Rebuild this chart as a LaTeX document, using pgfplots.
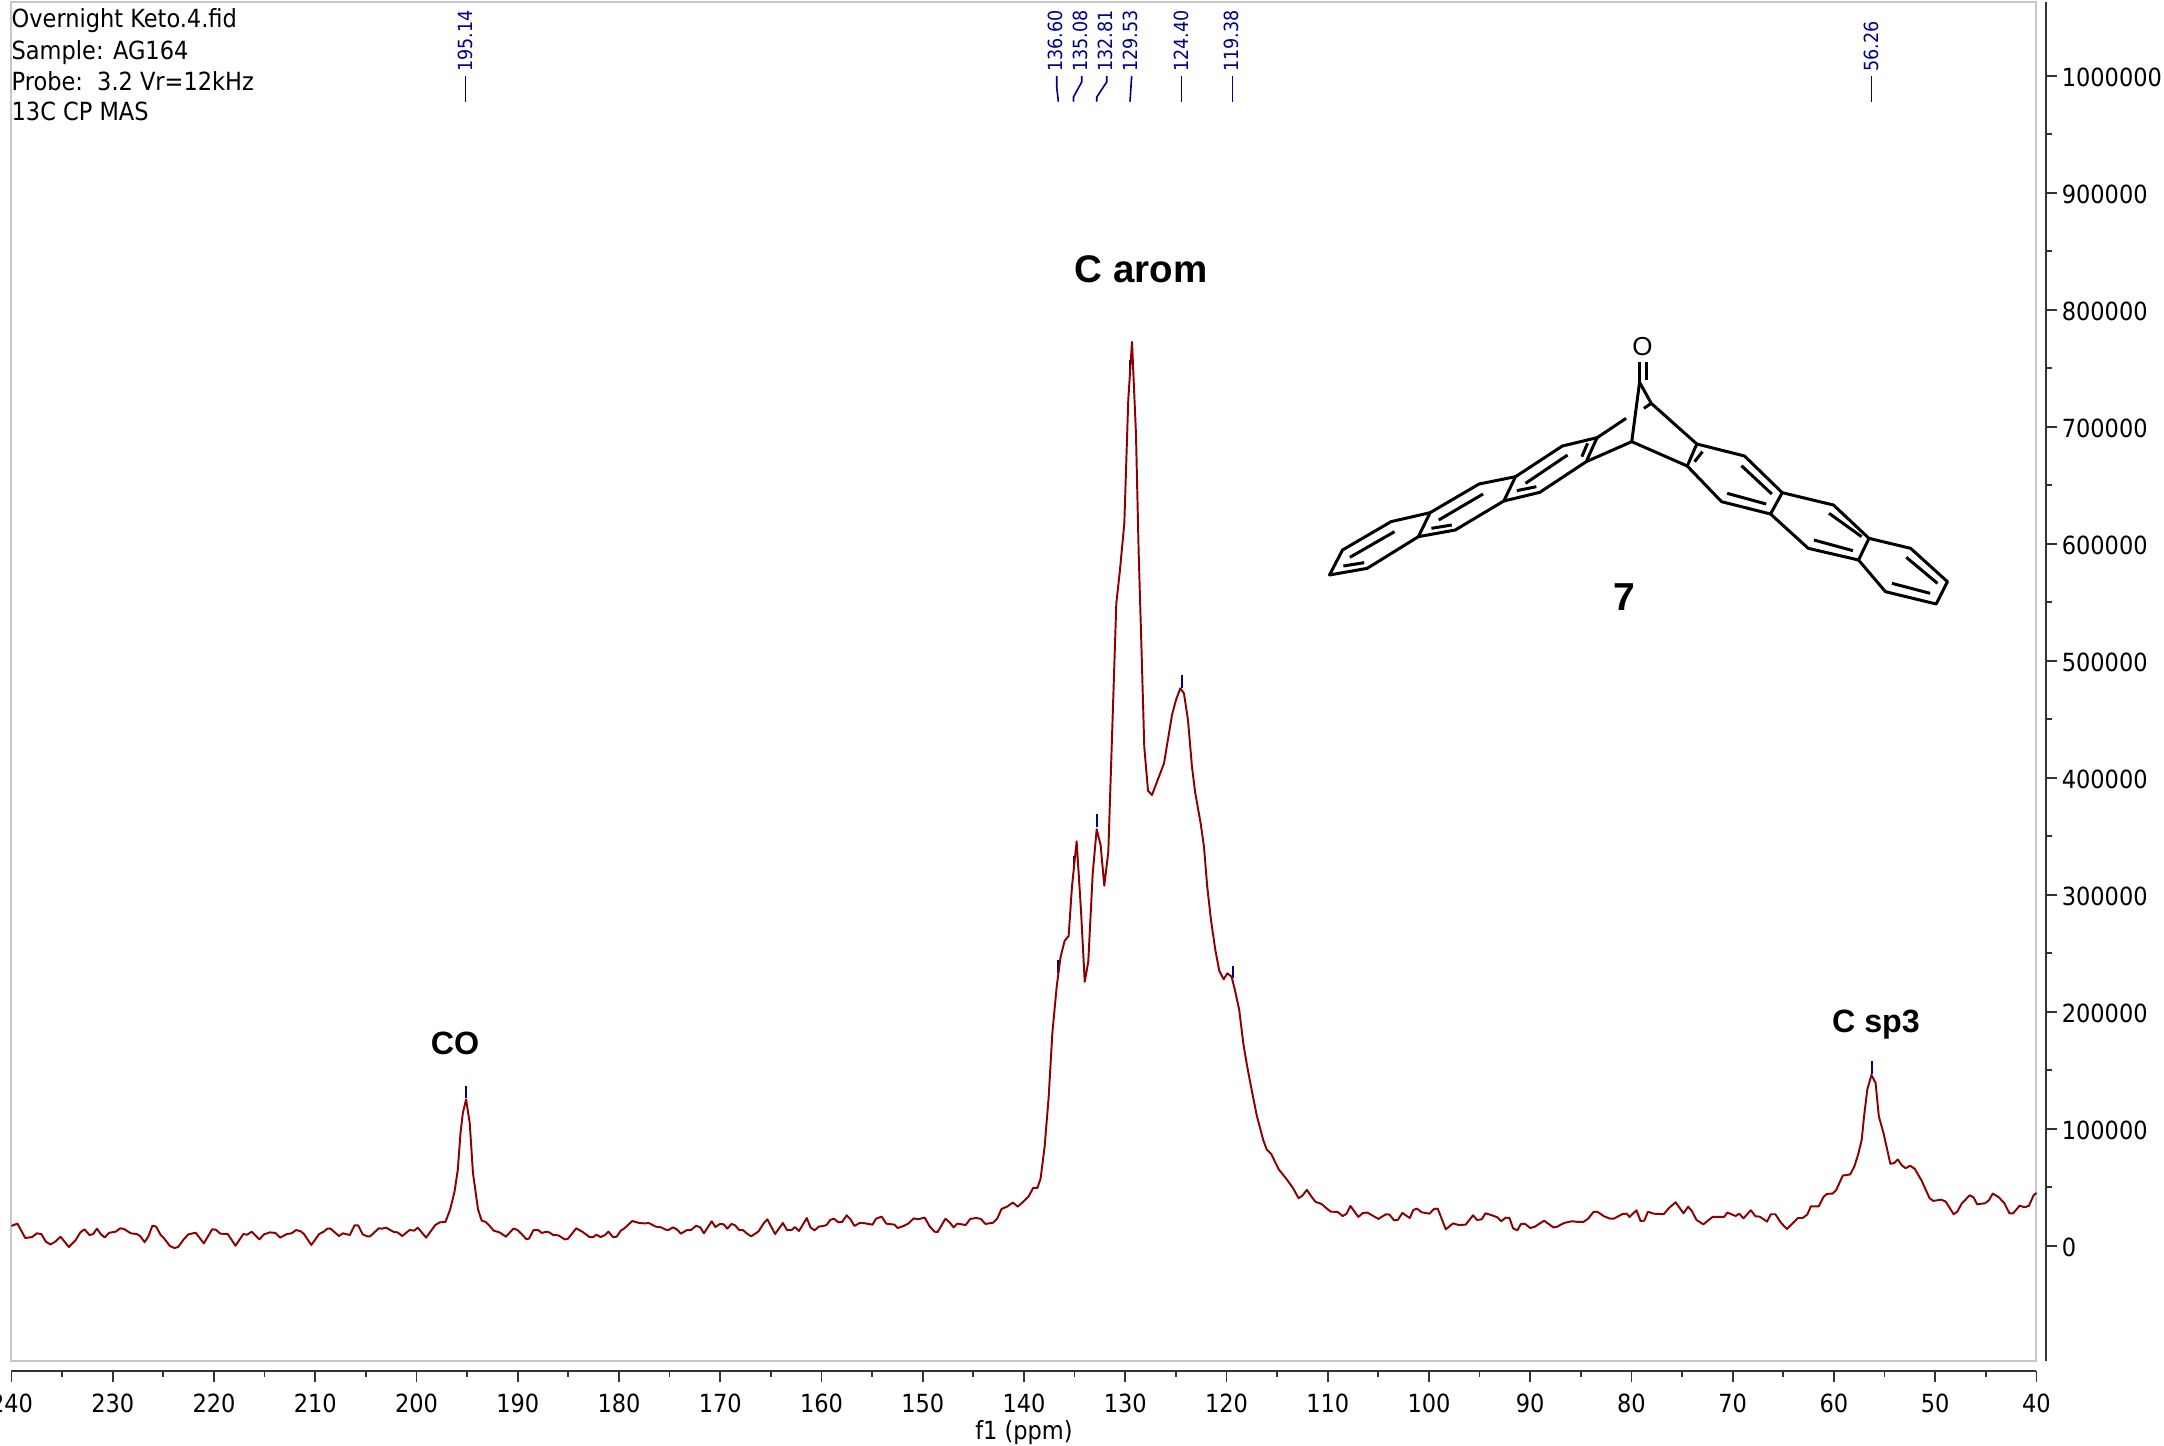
\documentclass[border=0pt]{standalone}
\usepackage{fontspec}
\setmainfont{DejaVu Sans Condensed}
\newfontfamily\lib{Liberation Sans}
\usepackage{pgfplots}
\usepackage{pgfplotstable}
\pgfplotsset{compat=1.18}
\definecolor{spec}{HTML}{8B0000}
\definecolor{pk}{HTML}{00008B}
\definecolor{fr}{HTML}{C8C8C8}
\definecolor{ax}{HTML}{333333}
\pgfplotstableread{
ppm val
240.0 16900
239.41 18900
238.64 6600
237.96 7400
237.51 10600
237.05 10000
236.6 3400
236.15 1100
235.69 3400
235.15 7700
234.33 -1100
233.65 4900
233.2 11400
232.79 14000
232.29 9100
231.93 10000
231.56 14600
231.16 9700
230.79 7100
230.34 11100
229.71 12000
229.25 14900
228.89 14300
228.21 10600
227.62 10000
227.3 8300
226.85 3100
226.49 7700
226.08 17100
225.71 16300
225.26 9100
224.9 6000
224.35 -300
223.9 -2000
223.54 -1100
222.99 5400
222.54 9700
221.81 11100
221.0 2000
220.18 14000
219.82 13700
219.37 10300
218.64 10000
217.87 0
217.1 10000
216.73 9400
216.28 12000
215.51 5400
215.06 9700
214.47 11400
213.92 10900
213.47 6900
212.79 10000
212.34 10600
211.88 13400
211.43 12300
211.11 10000
210.39 600
209.61 10000
209.16 12000
208.8 14600
208.48 14600
207.66 8300
207.26 10600
206.58 9100
206.12 17400
205.76 17400
205.31 9700
204.85 8000
204.58 8000
203.72 14900
203.4 14600
203.0 15400
202.22 11700
201.86 11400
201.41 8300
200.68 13400
200.23 12900
199.86 15400
199.05 6900
198.14 17700
197.69 20000
197.14 20300
196.69 30600
196.24 46300
195.92 64900
195.65 96300
195.42 113400
195.10 125000
194.74 104900
194.42 62000
193.92 31100
193.56 21400
193.15 20300
192.79 17100
192.38 12900
191.79 11400
191.16 7700
190.43 14600
190.07 13700
189.61 10000
189.16 5700
188.89 6000
188.44 13400
187.98 13400
187.62 10900
187.17 12000
186.89 11400
186.49 9100
185.99 8900
185.35 5400
185.03 6000
184.22 14900
183.63 12000
182.9 7400
182.54 7400
182.22 9400
181.81 7400
181.41 8900
181.04 12000
180.59 7400
180.23 7700
179.82 12900
179.46 14900
178.69 21100
178.0 19400
177.41 19100
177.05 19400
176.37 16300
175.83 15700
175.37 13700
175.1 13400
174.69 15700
174.28 14000
173.88 10300
173.29 13400
172.88 13400
172.38 17100
171.97 15700
171.61 10600
170.84 20900
170.48 16000
170.02 18600
169.66 18300
169.3 14600
168.89 18600
168.53 17400
168.12 13400
167.76 13400
167.3 10000
166.94 8000
166.21 12300
165.71 19100
165.35 22600
164.58 10000
163.81 19400
163.4 13400
162.95 13400
162.63 16000
162.22 12600
161.45 23700
161.09 15700
160.68 13100
160.27 16300
159.82 16900
159.5 17700
159.14 22000
158.78 23100
158.32 20000
157.96 20300
157.51 26000
157.14 22600
156.74 16900
156.24 19400
155.87 19400
154.97 18000
154.6 23100
154.06 24900
153.61 18900
152.79 18000
152.47 15100
151.88 16900
151.43 18900
150.88 23400
150.48 22600
149.8 24000
149.34 16900
148.84 12000
148.53 11700
147.76 23100
147.35 20000
146.95 15700
146.58 18900
145.76 17700
145.31 22900
144.72 23700
144.26 22900
143.81 18600
143.04 19700
142.63 23400
142.22 31400
141.68 33400
141.09 36900
140.63 33400
140.09 37400
139.55 42000
139.09 49400
138.68 49400
138.37 56900
137.96 84600
137.56 127300
137.2 181500
136.77 221400
136.38 247000
135.98 260700
135.59 264700
135.26 306800
134.8 345600
134.37 286900
134.0 225600
133.65 242700
133.21 318300
132.82 355900
132.43 342500
132.07 307700
131.67 336700
130.88 549100
130.52 577500
130.09 617400
129.7 722800
129.33 772600
128.94 694300
128.67 591800
128.38 506300
128.12 426500
127.75 388900
127.36 385200
126.17 412300
125.38 453600
124.99 466400
124.56 476400
124.2 472100
123.8 449300
123.41 409400
123.08 386700
122.55 361000
122.22 341000
121.9 306800
121.53 278400
121.1 252700
120.71 235000
120.28 227700
119.92 232800
119.49 229900
119.13 217100
118.74 201500
118.34 173000
117.95 153000
117.51 133100
117.02 111700
116.37 90300
116.03 82400
115.58 78400
114.84 65300
114.01 56300
113.42 49100
112.88 40600
112.52 42600
112.06 47700
111.61 42000
111.2 37400
110.61 35700
110.25 32900
109.71 29100
109.02 28900
108.53 25400
108.16 27100
107.76 34000
107.35 29100
106.98 24600
106.53 28000
106.08 28300
104.99 22900
104.26 26900
103.9 26600
103.45 21700
103.08 22000
102.63 28000
101.9 23700
101.54 30600
101.18 31700
100.73 28600
99.95 27400
99.5 31400
99.14 31700
98.89 26300
98.34 14000
97.62 19100
97.07 17700
96.38 18000
95.65 26000
95.24 22000
94.79 22600
94.42 27700
93.88 26300
93.24 24300
92.87 20900
92.42 24000
92.05 23700
91.69 14900
91.28 13100
90.91 18600
90.5 18600
90 15100
89.54 16300
88.63 21400
87.72 15700
87.4 16000
86.67 19400
85.9 20900
85.21 20300
84.76 20300
84.3 22900
83.75 28900
83.39 29100
82.7 25100
82.11 23100
81.75 23100
80.88 27100
80.47 27400
80.2 24600
79.51 30300
79.1 21100
78.74 21400
78.37 29100
77.82 27400
76.82 26900
76.32 32000
75.64 37100
74.86 27700
74.4 33400
74.04 29700
73.58 22000
72.9 18300
71.99 24600
70.85 24600
70.53 28300
69.71 25400
69.35 27400
68.94 23400
68.21 30300
67.75 25100
67.34 24900
66.61 20600
66.24 26900
65.79 26900
65.24 19700
64.65 14300
63.55 23700
63.1 23700
62.64 26600
62.28 33700
61.5 33700
61.04 41700
60.68 44300
60.13 44600
59.77 47700
59.13 60000
58.4 60900
57.99 67700
57.62 77700
57.26 90600
57.03 110600
56.71 133400
56.3 146000
55.89 139100
55.57 110600
55.11 96300
54.43 70000
54.07 70600
53.7 73700
53.29 68600
52.93 66300
52.47 68300
52.02 65700
51.33 55400
50.56 40600
50.19 38300
49.42 39400
48.96 37700
48.18 26900
47.82 29100
47.36 36300
46.59 43100
46.22 41400
45.86 35400
45.08 36300
44.72 38600
44.31 44600
43.72 41400
43.17 36300
42.67 27700
42.3 27700
41.66 34300
41.21 32900
40.75 34000
40.3 42900
40.0 45100
}\spectrum
\begin{document}
\begin{tikzpicture}
\begin{scope}[x=0.4pt,y=-0.4pt]
\draw[fr,line width=0.8pt] (11.5,2) rectangle (2036.5,1361);
\end{scope}
\begin{axis}[
  at={(4.6pt,-544.4pt)},anchor=south west,
  scale only axis,width=810pt,height=543.6pt,
  xmin=40,xmax=240,x dir=reverse,
  ymin=-98540,ymax=1063000,
  axis x line*=bottom,axis y line*=right,
  axis x line shift=4pt,axis y line shift=3.8pt,
  axis line style={ax,line width=1pt,-},
  xtick={240,230,...,40},minor x tick num=1,
  ytick={0,100000,...,1000000},minor y tick num=1,
  tick align=outside,
  major tick length=4.4pt,minor tick length=2.4pt,
  tick style={ax,line width=0.7pt},
  /pgf/number format/assume math mode=true,
  /pgf/number format/fixed,/pgf/number format/1000 sep={},
  scaled y ticks=false,
  ticklabel style={font=\fontsize{10}{12}\selectfont,black},
  xticklabel style={yshift=-1.2pt},
  yticklabel style={anchor=west,xshift=-1.6pt,yshift=-0.7pt},
  xlabel={f1 (ppm)},
  xlabel style={at={(axis description cs:0.5,0)},anchor=center,yshift=-28.8pt,font=\fontsize{10}{12}\selectfont},
  clip=false,
]
\addplot[pk,line width=0.8pt,unbounded coords=jump] coordinates {
(195.14,126200)(195.14,136500)(195.14,nan)
(136.60,233300)(136.60,244200)(136.60,nan)
(135.08,322800)(135.08,333300)(135.08,nan)
(132.81,358100)(132.81,369000)(132.81,nan)
(129.53,745900)(129.53,757000)(129.53,nan)
(124.40,476900)(124.40,487800)(124.40,nan)
(119.38,228500)(119.38,239300)(119.38,nan)
(56.26,146700)(56.26,157800)
};
\addplot[spec,line width=0.78pt,line join=round] table[x=ppm,y=val] {\spectrum};
\end{axis}
\begin{scope}[x=0.4pt,y=-0.4pt]
\foreach \t/\b in {Overnight Keto.4.fid/27,Sample: AG164/59,Probe:\ \ 3.2 Vr=12kHz/90,13C CP MAS/120}
  \node[anchor=base west,inner sep=0pt,font=\fontsize{10}{12}\selectfont] at (11.2,\b) {\t};
% peak labels
\foreach \l/\x in {195.14/465,136.60/1055,135.08/1080,132.81/1105,129.53/1130,124.40/1181,119.38/1231.7,56.26/1871}
  \node[rotate=90,anchor=west,inner sep=0pt,text=pk,font=\fontsize{7.8}{9}\selectfont] at (\x,72) {\l};
\begin{scope}[pk,line width=0.65pt]
\draw (465.5,76)--(465.5,101.7);
\draw (1056.7,76)--(1056.7,87)--(1058.4,101.7);
\draw (1081.7,76)--(1081.7,82)--(1073.5,97)--(1073.5,101.7);
\draw (1106.7,76)--(1106.7,82)--(1096.8,97)--(1096.8,101.7);
\draw (1131.7,76)--(1130,101.7);
\draw (1181.5,76)--(1181.5,101.7);
\draw (1232.5,76)--(1232.5,101.7);
\draw (1871.5,76)--(1871.5,101.7);
\end{scope}
% annotations
\node[font=\lib\bfseries\fontsize{15.4}{18}\selectfont] at (1141,269) {C arom};
\node[font=\lib\bfseries\fontsize{12.9}{15}\selectfont] at (455,1043) {CO};
\node[font=\lib\bfseries\fontsize{12.9}{15}\selectfont] at (1876,1025) {C sp3};
\node[font=\lib\bfseries\fontsize{15.6}{18}\selectfont] at (1624,597) {7};
\end{scope}
% structure of compound 7
\begin{scope}[shift={(520pt,-128pt)},x=0.17346pt,y=-0.13333pt,line width=1.2pt,line join=round,black]
\node[font=\lib\fontsize{10.4}{12}\selectfont,inner sep=0pt] at (790,80) {O};
\draw (782,125)--(782,185);
\draw (798,125)--(798,180);
\draw (783,187)--(765,365);
\draw (783,187)--(810,250)--(915,372);
\draw (810,250)--(793,265);
\draw (752,295)--(685,353);
\draw (660,425)--(765,365)--(893,438);
\draw (915,372)--(1025,408)--(1112,518)--(1085,582)--(972,545)--(893,438)--cycle;
\draw (928,395)--(910,425) (1018,437)--(1088,522) (985,520)--(1075,552);
\draw (1112,518)--(1230,555)--(1312,655)--(1288,720)--(1172,685)--(1085,582);
\draw (1220,580)--(1295,650) (1185,660)--(1275,692);
\draw (1312,655)--(1408,685)--(1493,785)--(1467,852)--(1350,815)--(1288,720);
\draw (1398,712)--(1470,790) (1365,790)--(1453,820);
\draw (685,353)--(605,378)--(497,470)--(470,543)--(553,517)--(660,425)--cycle;
\draw (663,370)--(650,410) (617,405)--(520,490) (500,512)--(545,500);
\draw (497,470)--(413,492)--(300,578)--(273,650)--(358,630)--(470,543);
\draw (422,522)--(320,600) (303,625)--(350,615);
\draw (300,578)--(210,605)--(98,690)--(68,765)--(155,745)--(273,650);
\draw (218,635)--(115,712) (100,738)--(148,728);
\end{scope}
\pgfresetboundingbox
\path[use as bounding box] (0pt,0pt) rectangle (865.6pt,-578.4pt);
\end{tikzpicture}
\end{document}
